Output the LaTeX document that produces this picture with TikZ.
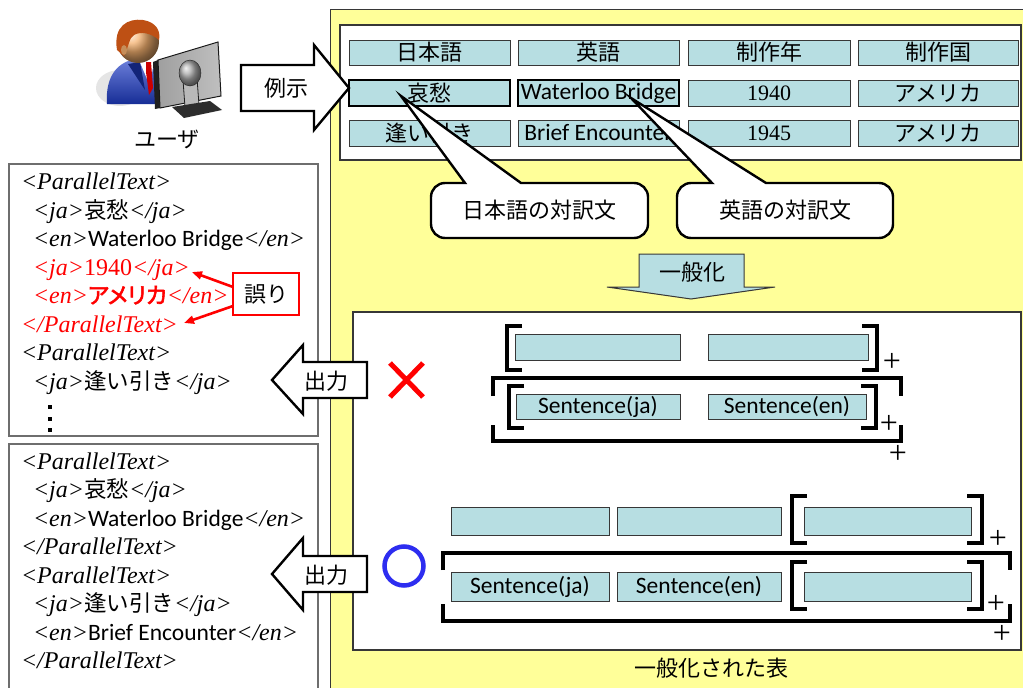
\documentclass[tikz,border=0pt]{standalone}
\usepackage{fontspec}
\usetikzlibrary{arrows.meta}
\setmainfont{Liberation Serif}
\newfontfamily\jpfont{Noto Sans CJK JP}[AutoFakeBold=2.5]
\newfontfamily\jppfont{Noto Sans CJK JP}[RawFeature=+palt, AutoFakeBold=2.5]
\newfontfamily\latinsans{Carlito}
\definecolor{cellc}{RGB}{183,222,226}
\definecolor{panel}{RGB}{255,255,153}
\definecolor{edge}{RGB}{55,55,55}
\definecolor{boxedge}{RGB}{110,110,110}
\definecolor{errred}{RGB}{255,0,0}
\definecolor{okblue}{RGB}{45,45,240}
\definecolor{skin}{RGB}{246,178,112}
\definecolor{hair}{RGB}{190,80,20}
\definecolor{suit}{RGB}{30,60,200}
% inline font switches
\newcommand\lat[1]{{\latinsans\fontsize{23.5}{28}\selectfont #1}}
\newcommand\jpt[1]{{\jpfont\fontsize{22.5}{26}\selectfont #1}}
\newcommand\Otag[1]{{\itshape<#1>}}
\newcommand\Ctag[1]{{\itshape</#1>}}
% square brackets drawn as strokes
\newcommand\openbr[3]{\draw[brak] (#1+15,#2) -- (#1,#2) -- (#1,#3) -- (#1+15,#3);}
\newcommand\closebr[3]{\draw[brak] (#1-15,#2) -- (#1,#2) -- (#1,#3) -- (#1-15,#3);}
\newcommand\widebr[6]{%
  \draw[brak] (#1,#5) -- (#1,#3) -- (#2,#3) -- (#2,#5);
  \draw[brak] (#1,#6) -- (#1,#4) -- (#2,#4) -- (#2,#6);}
\begin{document}
\begin{tikzpicture}[x=1pt,y=-1pt,
  every node/.style={inner sep=0pt, outer sep=0pt, font=\fontsize{22}{26}\selectfont},
  cell/.style={draw=edge, fill=cellc, line width=0.9pt, anchor=north west,
    font=\fontsize{22}{26}\selectfont\jpfont},
  keycell/.style={cell, draw=black, line width=2.3pt},
  frame/.style={draw=edge, line width=1.1pt, fill=white},
  codebox/.style={draw=boxedge, line width=1.2pt, fill=white},
  code/.style={anchor=base west, font=\fontsize{24}{28}\selectfont},
  blockarrow/.style={draw=black, line width=2.4pt, fill=white, line join=miter},
  callout/.style={draw=black, line width=2.4pt, fill=white},
  brak/.style={line width=3.4pt, line join=miter},
  plus/.style={font=\fontsize{32}{32}\selectfont},
  redarrow/.style={draw=errred, line width=2.6pt, -{Triangle[length=10pt,width=8pt]}},
  jplabel/.style={font=\fontsize{22}{26}\selectfont\jpfont}
]
\useasboundingbox (0,0) rectangle (1023,688);

% ---------- yellow panel ----------
\fill[panel] (330,9) rectangle (1023,688);
\draw[edge, line width=1pt] (330,688) -- (330,9) -- (1023,9);

% ---------- example table ----------
\draw[frame] (340,25) rectangle (1021,160);
\node[cell, minimum width=161pt, minimum height=25pt] (h1) at (349,40) {日本語};
\node[cell, minimum width=161pt, minimum height=25pt] (h2) at (518,40) {英語};
\node[cell, minimum width=162pt, minimum height=25pt] (h3) at (688,40) {制作年};
\node[cell, minimum width=160pt, minimum height=25pt] (h4) at (858,40) {制作国};
\node[keycell, minimum width=161pt, minimum height=26pt] (r11) at (349,80) {哀愁};
\node[keycell, minimum width=161pt, minimum height=26pt] (r12) at (518,80) {\lat{Waterloo Bridge}};
\node[cell, minimum width=162pt, minimum height=26pt] (r13) at (688,80) {\rmfamily 1940};
\node[cell, minimum width=160pt, minimum height=26pt] (r14) at (858,80) {アメリカ};
\node[cell, minimum width=161pt, minimum height=26pt] (r21) at (349,120) {逢い引き};
\node[cell, minimum width=161pt, minimum height=26pt] (r22) at (518,120) {\lat{Brief Encounter}};
\node[cell, minimum width=162pt, minimum height=26pt] (r23) at (688,120) {\rmfamily 1945};
\node[cell, minimum width=160pt, minimum height=26pt] (r24) at (858,120) {アメリカ};

% ---------- callouts ----------
\coordinate (tipja) at (401,96);
\coordinate (tipen) at (631,98);
\draw[callout] (465,183) -- (tipja) -- (521,183) -- (530,183)
  [rounded corners=14pt] -- (648,183) -- (648,238) -- (431,238) -- (431,183)
  [sharp corners] -- (460,183) -- cycle;
\node[jplabel] (calja) at (539.5,210.5) {日本語の対訳文};
\draw[callout] (712,183) -- (tipen) -- (766,183) -- (775,183)
  [rounded corners=14pt] -- (893,183) -- (893,238) -- (677,238) -- (677,183)
  [sharp corners] -- (705,183) -- cycle;
\node[jplabel] (calen) at (785,210.5) {英語の対訳文};

% ---------- generalisation arrow ----------
\draw[draw=edge, line width=1pt, fill=cellc, line join=miter]
  (639,254) -- (744,254) -- (744,287) -- (775,287) -- (691,299)
  -- (607,287) -- (639,287) -- cycle;
\node[jplabel] (gen) at (692,272) {一般化};

% ---------- generalised tables ----------
\draw[frame] (353,312) rectangle (1021,650);

% rejected pattern
\draw[errred, line width=5pt] (390,363) -- (423,397) (423,363) -- (390,397);
\node[cell, minimum width=165pt, minimum height=26pt] (xa) at (515,334) {};
\node[cell, minimum width=160pt, minimum height=26pt] (xb) at (708,334) {};
\openbr{507}{326}{370}
\closebr{877}{326}{370}
\node[plus] (xp1) at (892,362) {+};
\node[cell, minimum width=164pt, minimum height=25pt] (xja) at (516,394) {\lat{Sentence(ja)}};
\node[cell, minimum width=158pt, minimum height=25pt] (xen) at (708,394) {\lat{Sentence(en)}};
\openbr{509}{386}{428}
\closebr{876}{386}{428}
\node[plus] (xp2) at (889,424) {+};
\widebr{493}{901}{378}{441}{396}{425}
\node[plus] (xp3) at (898,454) {+};

% accepted pattern
\draw[okblue, line width=4.5pt] (404,566) circle (19.5);
\node[cell, minimum width=158pt, minimum height=28pt] (oa) at (451,507) {};
\node[cell, minimum width=164pt, minimum height=28pt] (ob) at (617,507) {};
\node[cell, minimum width=167pt, minimum height=28pt] (oc) at (804,507) {};
\openbr{792}{496}{543}
\closebr{982}{496}{543}
\node[plus] (op1) at (998,539) {+};
\node[cell, minimum width=158pt, minimum height=29pt] (oja) at (451,572) {\lat{Sentence(ja)}};
\node[cell, minimum width=164pt, minimum height=29pt] (oen) at (617,572) {\lat{Sentence(en)}};
\node[cell, minimum width=167pt, minimum height=29pt] (ox) at (804,572) {};
\openbr{792}{562}{609}
\closebr{982}{562}{609}
\node[plus] (op2) at (996,604) {+};
\widebr{443}{1010}{553}{621}{570}{604}
\node[plus] (op3) at (1002,634) {+};

\node[jplabel] (caption) at (711,668) {一般化された表};

% ---------- faulty output ----------
\draw[codebox] (9,164) rectangle (318,436);
\node[code] (a1) at (21,189.5) {\Otag{ParallelText}};
\node[code] (a2) at (33,218) {\Otag{ja}\jpt{哀愁}\Ctag{ja}};
\node[code] (a3) at (33,246.5) {\Otag{en}\lat{Waterloo Bridge}\Ctag{en}};
\node[code, text=errred] (a4) at (33,275) {\Otag{ja}1940\Ctag{ja}};
\node[code, text=errred] (a5) at (33,303.5) {\Otag{en}{\jppfont\fontsize{22.5}{26}\selectfont\bfseries アメリカ}\Ctag{en}};
\node[code, text=errred] (a6) at (21,332) {\Ctag{ParallelText}};
\node[code] (a7) at (21,360.5) {\Otag{ParallelText}};
\node[code] (a8) at (33,389) {\Otag{ja}\jpt{逢い引き}\Ctag{ja}};
\fill (48,405) rectangle ++(4,4);
\fill (48,416.5) rectangle ++(4,4);
\fill (48,428) rectangle ++(4,4);

\node[draw=errred, line width=2.6pt, fill=white, minimum width=66pt, minimum height=42pt,
  jplabel] (err) at (266,294) {誤り};
\coordinate (e1) at (192,272);
\coordinate (e2) at (184,323);
\draw[redarrow] ([yshift=7pt]err.west) -- (e1);
\draw[redarrow] ([yshift=-12pt]err.west) -- (e2);

% ---------- correct output ----------
\draw[codebox] (9,688) -- (9,444) -- (318,444) -- (318,688);
\node[code] (b1) at (21,469) {\Otag{ParallelText}};
\node[code] (b2) at (33,497.5) {\Otag{ja}\jpt{哀愁}\Ctag{ja}};
\node[code] (b3) at (33,526) {\Otag{en}\lat{Waterloo Bridge}\Ctag{en}};
\node[code] (b4) at (21,554.5) {\Ctag{ParallelText}};
\node[code] (b5) at (21,583) {\Otag{ParallelText}};
\node[code] (b6) at (33,611.5) {\Otag{ja}\jpt{逢い引き}\Ctag{ja}};
\node[code] (b7) at (33,640) {\Otag{en}\lat{Brief Encounter}\Ctag{en}};
\node[code] (b8) at (21,668.5) {\Ctag{ParallelText}};

% ---------- block arrows ----------
\draw[blockarrow] (241,65) -- (314,65) -- (314,45) -- (349,88) -- (314,130)
  -- (314,111) -- (241,111) -- cycle;
\node[jplabel] (ex) at (286,88) {例示};
\draw[blockarrow] (272,380) -- (303,345) -- (303,362) -- (367,362) -- (367,398)
  -- (303,398) -- (303,414) -- cycle;
\node[jplabel] (out1) at (326,381) {出力};
\draw[blockarrow] (272,574) -- (303,538) -- (303,556) -- (367,556) -- (367,592)
  -- (303,592) -- (303,610) -- cycle;
\node[jplabel] (out2) at (326,575) {出力};

% ---------- user at a monitor ----------
\fill[gray!20] (120,88) ellipse (24 and 18);
\shade[top color=suit!65!white, bottom color=suit!75!black]
  (107,104) .. controls (105,76) and (118,61) .. (137,59)
  .. controls (152,60) and (162,68) .. (164,82) -- (164,104) -- cycle;
\fill[suit!60!black] (128,64) -- (140,62) -- (145,90) -- cycle;
\fill[white] (139,60) -- (154,61) -- (150,86) -- cycle;
\fill[red!80!black] (146,62) -- (151,62) -- (153,88) -- (149,95) -- (146,72) -- cycle;
\shade[ball color=skin] (138,42) circle (21);
\fill[hair] (117,50) .. controls (113,26) and (128,18) .. (143,20)
  .. controls (156,22) and (161,31) .. (159,40)
  .. controls (151,33) and (141,31) .. (134,35)
  .. controls (129,38) and (129,46) .. (124,56) -- cycle;
\fill[skin!80!black] (124,50) ellipse (3 and 5);
\fill[gray!25!black] (153,62) -- (158,60) -- (160,108) -- (155,109) -- cycle;
\shade[left color=gray!75, right color=gray!50, draw=gray!20!black, line width=1pt]
  (158,60) -- (218,42) -- (221,96) -- (160,108) -- cycle;
\fill[gray!55, draw=gray!25!black, line width=0.8pt] (183,80) -- (197,78) -- (199,105) -- (185,107) -- cycle;
\shade[ball color=gray!65, draw=gray!25!black] (190,73) ellipse (11 and 13);
\fill[gray!35!black] (172,107) -- (210,101) -- (222,110) -- (184,118) -- cycle;
\node[jplabel] (user) at (167,139) {ユーザ};
\end{tikzpicture}
\end{document}
